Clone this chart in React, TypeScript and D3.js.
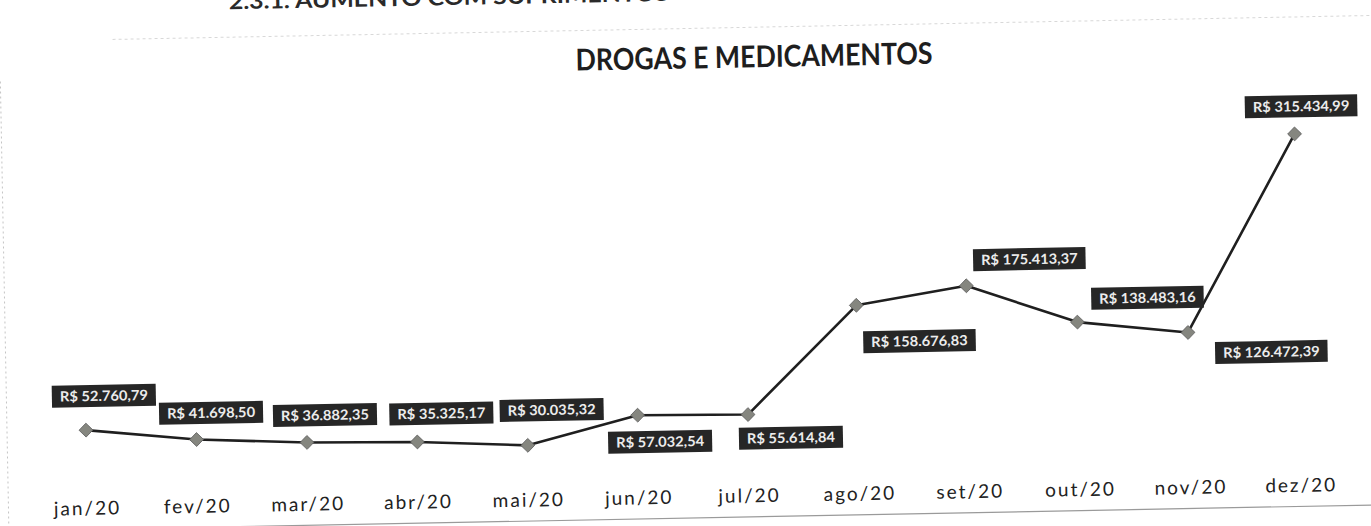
import React from "react";
import * as d3 from "d3";

// ---- data ----
const months = ["jan/20", "fev/20", "mar/20", "abr/20", "mai/20", "jun/20", "jul/20", "ago/20", "set/20", "out/20", "nov/20", "dez/20"];
const values = [52760.79, 41698.5, 36882.35, 35325.17, 30035.32, 57032.54, 55614.84, 158676.83, 175413.37, 138483.16, 126472.39, 315434.99];
const chartTitle = "DROGAS E MEDICAMENTOS";
const pageHeading = "2.3.1.  AUMENTO COM SUPRIMENTOS";

// ---- layout (label placement relative to each point, as moved in the original) ----
const labelDx = [18.5, 15, 18.5, 24.5, 24.5, 22, 42.5, 62.5, 63.5, 70.5, 83, 7];
const labelDy = [-34, -26.5, -27, -28, -35, 27, 24, 37, -25.5, -23, 21, -27.5];

const W = 1371;
const H = 526;
const ANGLE = -1.09; // the scanned page is slightly tilted
const CX = 86;
const CY = 430;
const FONT = "Lato, 'Open Sans', sans-serif";

const ptBR = d3.formatLocale({ decimal: ",", thousands: ".", grouping: [3], currency: ["R$ ", ""] });
const fmt = ptBR.format("$,.2f");

export default function App() {
  const x = d3.scalePoint<string>().domain(months).range([86, 1300]).padding(0);
  const y = d3.scaleLinear().domain([0, 350000]).range([485, 121]);

  const line = d3
    .line<number>()
    .x((_, i) => x(months[i]) as number)
    .y((v) => y(v));

  const diamond = d3.symbol(d3.symbolSquare, 96)() as string;

  return (
    <svg
      width={W}
      height={H}
      viewBox={`0 0 ${W} ${H}`}
      style={{ position: "absolute", left: 0, top: 0, background: "#fff" }}
    >
      <rect x={0} y={0} width={W} height={H} fill="#fff" />
      <g transform={`rotate(${ANGLE} ${CX} ${CY})`}>
        {/* page heading, mostly cut off at the top as in the scan */}
        <text
          x={237}
          y={12}
          fontFamily={FONT}
          fontWeight={700}
          fontSize={22}
          fill="#2a2a2a"
          textLength={440}
          lengthAdjust="spacingAndGlyphs"
        >
          {pageHeading}
        </text>

        {/* chart frame (faint in the scan) */}
        <line x1={120} x2={1420} y1={40} y2={40} stroke="#d8d8d8" strokeWidth={1} strokeDasharray="3,3" />
        <line x1={7} x2={7} y1={80} y2={560} stroke="#c4c4c4" strokeWidth={1} strokeDasharray="2,3" />
        <line x1={7} x2={1420} y1={529.5} y2={529.5} stroke="#9a9a9a" strokeWidth={1.2} />

        {/* title */}
        <text
          x={761}
          y={80}
          textAnchor="middle"
          fontFamily={FONT}
          fontWeight={700}
          fontSize={30}
          fill="#1e1e1e"
          textLength={357}
          lengthAdjust="spacingAndGlyphs"
        >
          {chartTitle}
        </text>

        {/* line */}
        <path d={line(values) as string} fill="none" stroke="#1f1f1f" strokeWidth={2.6} strokeLinejoin="round" />

        {/* markers */}
        {values.map((v, i) => (
          <path
            key={`m${i}`}
            d={diamond}
            transform={`translate(${x(months[i])},${y(v)}) rotate(45)`}
            fill="#85867f"
            stroke="#5e5e5e"
            strokeWidth={0.8}
          />
        ))}

        {/* data labels */}
        {values.map((v, i) => {
          const txt = fmt(v);
          const bw = txt.length * 8.5 + 2;
          const bh = 22;
          const cx = (x(months[i]) as number) + labelDx[i];
          const cy = y(v) + labelDy[i];
          return (
            <g key={`l${i}`}>
              <rect x={cx - bw / 2} y={cy - bh / 2} width={bw} height={bh} fill="#262626" />
              <text
                x={cx}
                y={cy + 5}
                textAnchor="middle"
                fontFamily={FONT}
                fontWeight={700}
                fontSize={14}
                fill="#ececec"
                textLength={bw - 16}
                lengthAdjust="spacingAndGlyphs"
              >
                {txt}
              </text>
            </g>
          );
        })}

        {/* category axis labels */}
        {months.map((m) => (
          <text
            key={m}
            x={x(m)}
            y={515}
            textAnchor="middle"
            fontFamily={FONT}
            fontSize={19}
            letterSpacing={2}
            fill="#222"
          >
            {m}
          </text>
        ))}
      </g>
    </svg>
  );
}
